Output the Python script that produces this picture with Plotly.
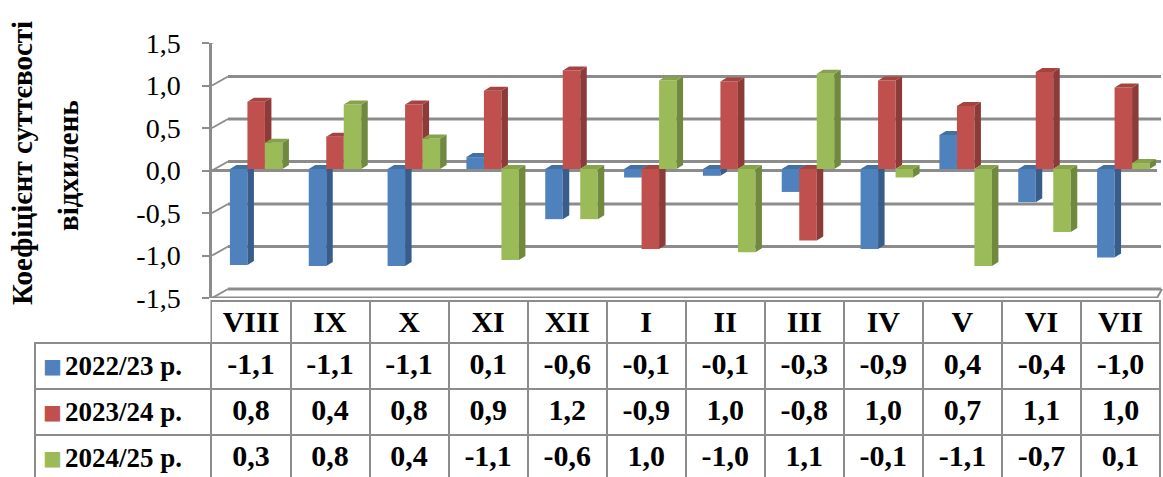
import plotly.graph_objects as go

# ---------------- data ----------------
months = ["VIII", "IX", "X", "XI", "XII", "I", "II", "III", "IV", "V", "VI", "VII"]
series_names = ["2022/23 р.", "2023/24 р.", "2024/25 р."]
s_2022_23 = [-1.13, -1.14, -1.14, 0.14, -0.59, -0.10, -0.08, -0.27, -0.94, 0.40, -0.39, -1.04]
s_2023_24 = [0.79, 0.38, 0.76, 0.92, 1.16, -0.94, 1.03, -0.84, 1.04, 0.74, 1.14, 0.96]
s_2024_25 = [0.31, 0.76, 0.36, -1.07, -0.59, 1.04, -0.98, 1.12, -0.10, -1.14, -0.74, 0.07]
y_ticks = [-1.5, -1.0, -0.5, 0.0, 0.5, 1.0, 1.5]
y_title_1 = "Коефіцієнт суттєвості"
y_title_2 = "відхилень"

# ---------------- styling ----------------
W, H = 1163, 477
X0, X1 = 212, 1158          # plot area (front plane) in px
YT, YB = 43, 298            # px of 1.5 and -1.5 on the front axis
BACK_DX, BACK_DY = 16, 9    # offset of the back wall
GRID = "#8C8C8C"
FONT = "Liberation Serif, Times New Roman, DejaVu Serif, serif"

front_cols = ["#4F81BD", "#C0504D", "#9BBB59"]
side_cols = ["#385D8A", "#8C3B39", "#71893F"]
top_cols = ["#43709F", "#A34441", "#86A24B"]

xpu = (X1 - X0) / len(months)
ypu = (YB - YT) / 3.0
BAR_W = 17.5 / xpu
DX = 6.5 / xpu
DY = 4.0 / ypu
first_off = -21.5 / xpu
shift = 1.5 / ypu


def fmt(v):
    return ("%.1f" % v).replace(".", ",")


idx = list(range(len(months)))
all_series = [s_2022_23, s_2023_24, s_2024_25]

fig = go.Figure()

for k, vals in enumerate(all_series):
    ya = "y%d" % (k + 2)
    off = first_off + k * BAR_W
    fig.add_trace(go.Bar(
        x=idx, y=vals, width=BAR_W, offset=off,
        marker=dict(color=front_cols[k], line=dict(width=0)),
        xaxis="x", yaxis=ya, showlegend=False, name=series_names[k],
        hovertemplate="%{y:.2f}<extra>" + series_names[k] + "</extra>",
    ))
    sx, sy, tx, ty = [], [], [], []
    for i, v in zip(idx, vals):
        xl = i + off
        xr = xl + BAR_W
        lo, hi = min(0.0, v), max(0.0, v)
        sx += [xr, xr, xr + DX, xr + DX, xr, None]
        sy += [lo, hi, hi + DY, lo + DY, lo, None]
        tx += [xl, xl + DX, xr + DX, xr, xl, None]
        ty += [hi, hi + DY, hi + DY, hi, hi, None]
    fig.add_trace(go.Scatter(x=sx, y=sy, mode="lines", fill="toself",
                             fillcolor=side_cols[k], line=dict(width=0),
                             xaxis="x", yaxis=ya, showlegend=False, hoverinfo="skip"))
    fig.add_trace(go.Scatter(x=tx, y=ty, mode="lines", fill="toself",
                             fillcolor=top_cols[k], line=dict(width=0),
                             xaxis="x", yaxis=ya, showlegend=False, hoverinfo="skip"))

# ---------------- data table ----------------
columns = [[""] * len(all_series)] + [[fmt(s[i]) for s in all_series] for i in idx]

TABLE_TOP = 301
HEADER_H, ROW_H = 42, 46
TFONT = dict(family=FONT, size=30, color="black", weight="bold")
LFONT = dict(family=FONT, size=27, color="black", weight="bold")
fig.add_trace(go.Table(
    domain=dict(x=[35 / W, 1160 / W], y=[0, (H - TABLE_TOP) / H]),
    columnwidth=[176] + [xpu] * len(months),
    header=dict(
        values=[""] + months,
        fill=dict(color=["rgba(0,0,0,0)"] + ["white"] * len(months)),
        line=dict(color=["rgba(0,0,0,0)"] + [GRID] * len(months), width=2),
        font=TFONT, align="center", height=HEADER_H,
    ),
    cells=dict(
        values=columns,
        fill=dict(color="white"),
        line=dict(color=GRID, width=2),
        font=TFONT, align="center", height=ROW_H,
    ),
))

# ---------------- walls / grid (shapes) ----------------
shapes = []
for v in y_ticks:
    shapes.append(dict(type="line", layer="below", xref="paper", yref="y",
                       x0=(X0 + BACK_DX) / W, x1=1161 / W,
                       ysizemode="pixel", yanchor=v, y0=BACK_DY, y1=BACK_DY,
                       line=dict(color=GRID, width=3)))
    shapes.append(dict(type="line", layer="below", xref="paper", yref="y",
                       x0=X0 / W, x1=(X0 + BACK_DX) / W,
                       ysizemode="pixel", yanchor=v, y0=0, y1=BACK_DY,
                       line=dict(color=GRID, width=2)))
for v in [0.0, -1.5]:
    shapes.append(dict(type="line", layer="below", xref="paper", yref="y",
                       x0=X0 / W, x1=1157 / W,
                       ysizemode="pixel", yanchor=v, y0=0, y1=0,
                       line=dict(color=GRID, width=3)))
shapes.append(dict(type="line", layer="below", xref="paper", yref="y",
                   x0=1157 / W, x1=1162 / W,
                   ysizemode="pixel", yanchor=-1.5, y0=0, y1=BACK_DY,
                   line=dict(color=GRID, width=2)))

# legend (square + series name) in the table's first column
annotations = []
for r, (c, n) in enumerate(zip(front_cols, series_names)):
    yc = TABLE_TOP + HEADER_H + ROW_H * r + 23
    annotations.append(dict(text="■", xref="paper", yref="paper",
                            x=52 / W, y=(H - yc) / H, xanchor="center", yanchor="middle",
                            showarrow=False,
                            font=dict(family="DejaVu Sans", size=20, color=c)))
    annotations.append(dict(text=n, xref="paper", yref="paper",
                            x=63 / W, y=(H - yc) / H, xanchor="left", yanchor="middle",
                            showarrow=False, font=LFONT))
annotations += [
    dict(text=y_title_1, xref="paper", yref="paper", x=22 / W, y=(H - 163) / H,
         xanchor="center", yanchor="middle", textangle=-90, showarrow=False,
         font=dict(family=FONT, size=29, color="black", weight="bold")),
    dict(text=y_title_2, xref="paper", yref="paper", x=68 / W, y=(H - 166) / H,
         xanchor="center", yanchor="middle", textangle=-90, showarrow=False,
         font=dict(family=FONT, size=29, color="black", weight="bold")),
]

ydom = [(H - YB) / H, (H - YT) / H]
hidden = dict(overlaying="y", range=[-1.5 - shift, 1.5 - shift], visible=False,
              showgrid=False, zeroline=False, automargin=False)

fig.update_layout(
    template="none",
    width=W, height=H, autosize=False,
    margin=dict(l=0, r=0, t=0, b=0, pad=0, autoexpand=False),
    paper_bgcolor="white", plot_bgcolor="rgba(0,0,0,0)",
    barmode="overlay",
    showlegend=False,
    shapes=shapes,
    annotations=annotations,
    xaxis=dict(domain=[X0 / W, X1 / W], range=[-0.5, len(months) - 0.5],
               visible=False, showgrid=False, zeroline=False, automargin=False),
    yaxis=dict(domain=ydom, range=[-1.5, 1.5], tickmode="array",
               tickvals=y_ticks, ticktext=[fmt(v) for v in y_ticks],
               ticks="outside", ticklen=7, tickwidth=2, tickcolor=GRID,
               showline=True, linecolor=GRID, linewidth=2.5, automargin=False,
               showgrid=False, zeroline=False, ticklabelstandoff=16,
               tickfont=dict(family=FONT, size=28, color="black")),
    yaxis2=hidden, yaxis3=hidden, yaxis4=hidden,
)

fig.write_html(
    "out.html",
    config={"displayModeBar": False},
    post_script="document.body.style.margin='0';document.body.style.overflow='hidden';",
)
